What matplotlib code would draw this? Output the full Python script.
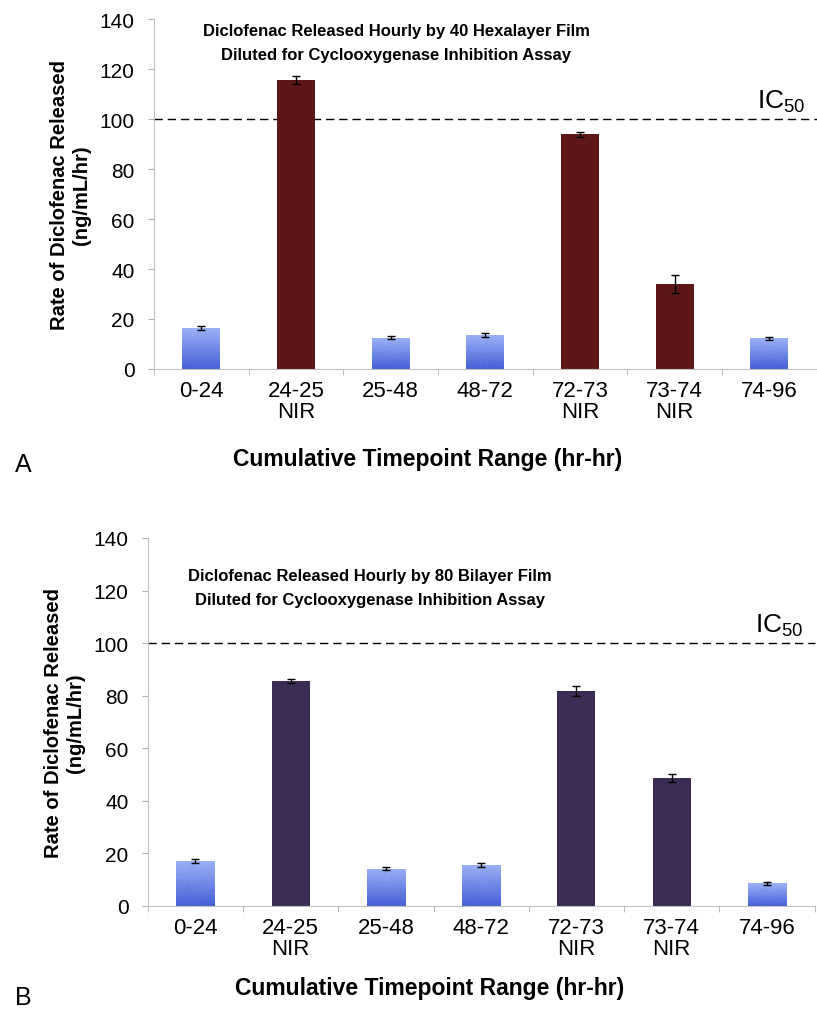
import matplotlib.pyplot as plt
import numpy as np
from matplotlib.colors import LinearSegmentedColormap

plt.rcParams['font.family'] = ['Liberation Sans', 'DejaVu Sans']
plt.rcParams['mathtext.fontset'] = 'custom'
plt.rcParams['mathtext.rm'] = 'Liberation Sans'
plt.rcParams['mathtext.it'] = 'Liberation Sans'

labels = ["0-24", "24-25\nNIR", "25-48", "48-72", "72-73\nNIR", "73-74\nNIR", "74-96"]
nir = [False, True, False, False, True, True, False]

# 40 hexalayer film
hexa_rate = [16.4, 115.6, 12.4, 13.6, 94.0, 34.0, 12.2]
hexa_err = [0.8, 1.5, 0.6, 0.7, 1.0, 3.6, 0.6]

# 80 bilayer film
bi_rate = [17.1, 85.6, 14.1, 15.6, 81.8, 48.7, 8.6]
bi_err = [0.6, 0.8, 0.6, 0.7, 1.8, 1.6, 0.5]

ic50 = 100

blue_cmap = LinearSegmentedColormap.from_list("bl", ["#4560d8", "#9bb2f7"])
rng = np.random.default_rng(3)


def panel(ax, rates, errs, nir_color, title, title_xy, xlab_x, xlab_pad):
    x = np.arange(len(rates))
    bars = ax.bar(x, rates, width=0.4, color=[nir_color if n else "none" for n in nir],
                  edgecolor="none", zorder=2)
    for b, n in zip(bars, nir):
        if n:
            continue
        # vertical gradient fill for the dark-period bars
        grad = np.linspace(0, 1, 200)[:, None] * np.ones((1, 20))
        grad = np.clip(grad + rng.normal(0, 0.06, grad.shape), 0, 1)
        im = ax.imshow(grad, cmap=blue_cmap, origin="lower", aspect="auto",
                       extent=[b.get_x(), b.get_x() + b.get_width(), 0, b.get_height()],
                       zorder=2, interpolation="bilinear")
        im.set_clip_path(b)
    ax.errorbar(x, rates, yerr=errs, fmt="none", ecolor="black", elinewidth=1,
                capsize=3, capthick=1, zorder=3)
    ax.axhline(ic50, color="black", lw=1, ls=(0, (6, 3.5)), zorder=1, clip_on=False)
    ax.text(6.38, ic50 + 2.0, r"IC$_{50}$", ha="right", va="bottom", fontsize=19)

    ax.set_xlim(-0.5, 6.5)
    ax.set_ylim(0, 140)
    ax.set_yticks(range(0, 141, 20))
    ax.set_xticks(x)
    ax.set_xticklabels(labels, fontsize=16, linespacing=1.0)
    ax.set_xticks(np.arange(-0.5, 7, 1), minor=True)
    ax.tick_params(axis="x", which="major", length=0, pad=8)
    ax.tick_params(axis="x", which="minor", length=4, color="#b0b0b0", direction="out")
    ax.tick_params(axis="y", labelsize=15, length=4, color="#b0b0b0", pad=10)
    for s in ["top", "right"]:
        ax.spines[s].set_visible(False)
    for s in ["left", "bottom"]:
        ax.spines[s].set_color("#c0c0c0")
        ax.spines[s].set_linewidth(0.8)

    ax.text(title_xy[0], title_xy[1], title, fontsize=12, fontweight="bold",
            linespacing=1.75, ha="center", va="center")
    ax.set_ylabel("Rate of Diclofenac Released\n(ng/mL/hr)", fontsize=14.5,
                  fontweight="bold", linespacing=1.2)
    ax.yaxis.set_label_coords(-0.095, 0.5)
    ax.set_xlabel("Cumulative Timepoint Range (hr-hr)", fontsize=16.5, fontweight="bold",
                  labelpad=xlab_pad)
    ax.xaxis.label.set_x(xlab_x)


fig = plt.figure(figsize=(8.17, 10.12), dpi=100)
ax1 = fig.add_axes([0.1885, 0.6344, 0.811, 0.3458])
ax2 = fig.add_axes([0.181, 0.1038, 0.816, 0.3636])

panel(ax1, hexa_rate, hexa_err, "#5e1717",
      "Diclofenac Released Hourly by 40 Hexalayer Film\nDiluted for Cyclooxygenase Inhibition Assay",
      (2.06, 130.5), 0.413, 18)
panel(ax2, bi_rate, bi_err, "#3a2c55",
      "Diclofenac Released Hourly by 80 Bilayer Film\nDiluted for Cyclooxygenase Inhibition Assay",
      (1.83, 121), 0.423, 12)

fig.text(15 / 817, 1 - 465 / 1012, "A", fontsize=18, ha="left", va="center")
fig.text(15 / 817, 1 - 998 / 1012, "B", fontsize=18, ha="left", va="center")

fig.savefig("out.png", dpi=100)
